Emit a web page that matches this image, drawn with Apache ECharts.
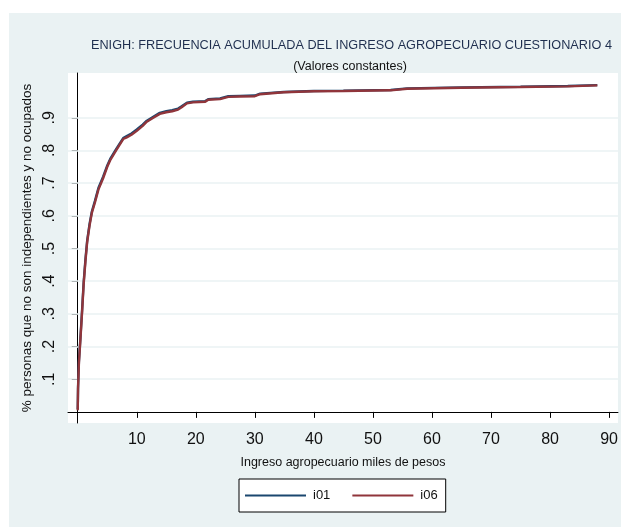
<!DOCTYPE html>
<html>
<head>
<meta charset="utf-8">
<script src="https://cdn.jsdelivr.net/npm/echarts@6/dist/echarts.min.js"></script>
<style>
  html, body { margin: 0; padding: 0; background: #ffffff; }
  #wrap { position: relative; width: 621px; height: 527px; }
  #bg { position: absolute; left: 9px; top: 13px; right: 0; bottom: 0; background: #eaf2f3; }
  #chart { position: absolute; left: 0; top: 0; width: 621px; height: 527px; }
</style>
</head>
<body>
<div id="wrap"><div id="bg"></div><div id="chart"></div></div>
<script>
// Cumulative frequency of agricultural income (thousands of pesos)
const incomeI06 = [0.0, 0.05, 0.2, 0.45, 0.75, 1.0, 1.3, 1.6, 2.0, 2.4, 2.9, 3.5, 4.3, 5.0, 5.5, 6.5, 7.7, 8.3, 9.1, 10.0, 11.0, 11.7, 12.8, 13.9, 15.0, 16.0, 17.0, 17.6, 18.5, 19.5, 21.6, 22.1, 24.1, 25.5, 27.5, 30.0, 30.9, 34.9, 40.0, 45.0, 53.0, 55.8, 65.0, 75.0, 83.0, 88.0];
const cumI06 = [0.005, 0.07, 0.15, 0.22, 0.31, 0.39, 0.46, 0.52, 0.57, 0.61, 0.64, 0.68, 0.715, 0.75, 0.77, 0.80, 0.835, 0.84, 0.848, 0.86, 0.875, 0.888, 0.90, 0.912, 0.917, 0.92, 0.925, 0.932, 0.944, 0.947, 0.949, 0.955, 0.957, 0.964, 0.965, 0.966, 0.972, 0.978, 0.981, 0.982, 0.984, 0.989, 0.992, 0.994, 0.996, 0.999];
const incomeI01 = [0.0, 0.05, 0.2, 0.45, 0.75, 1.0, 1.3, 1.6, 2.0, 2.4, 2.9, 3.5, 4.3, 5.0, 5.5, 6.5, 7.7, 8.3, 9.1, 10.0, 11.0, 11.7, 12.8, 13.9, 15.0, 16.0, 17.0, 17.6, 18.5, 19.5, 21.6, 22.1, 24.1, 25.5, 27.5, 30.0, 30.9, 34.9, 40.0, 45.0, 53.0, 55.8, 65.0, 75.0, 83.0, 88.0];
const cumI01 = [0.008, 0.075, 0.155, 0.226, 0.316, 0.396, 0.466, 0.525, 0.575, 0.614, 0.645, 0.685, 0.72, 0.754, 0.774, 0.804, 0.838, 0.844, 0.852, 0.864, 0.879, 0.891, 0.903, 0.915, 0.92, 0.923, 0.928, 0.935, 0.946, 0.949, 0.951, 0.957, 0.959, 0.966, 0.967, 0.968, 0.974, 0.979, 0.982, 0.983, 0.985, 0.99, 0.993, 0.995, 0.997, 1.0];

const xTicks = [10, 20, 30, 40, 50, 60, 70, 80, 90];
const yTicks = [0.1, 0.2, 0.3, 0.4, 0.5, 0.6, 0.7, 0.8, 0.9];
const yTickLabels = ['.1', '.2', '.3', '.4', '.5', '.6', '.7', '.8', '.9'];

const FONT = '"Liberation Sans", Arial, sans-serif';
const pairs = (xs, ys) => xs.map((x, i) => [x, ys[i]]);

const chart = echarts.init(document.getElementById('chart'), null, { renderer: 'canvas' });
chart.setOption({
  backgroundColor: 'transparent',
  animation: false,
  textStyle: { fontFamily: FONT },
  title: [
    {
      text: 'ENIGH: FRECUENCIA ACUMULADA DEL INGRESO AGROPECUARIO CUESTIONARIO 4',
      left: 86, top: 34,
      textStyle: { fontFamily: FONT, fontSize: 12.7, fontWeight: 'normal', color: '#1f2f4f' }
    },
    {
      text: '(Valores constantes)',
      left: 345, top: 55, textAlign: 'center',
      textStyle: { fontFamily: FONT, fontSize: 12.5, fontWeight: 'normal', color: '#111111' }
    }
  ],
  grid: {
    left: 68, top: 73, right: 3, bottom: 104,
    show: true, backgroundColor: '#ffffff', borderWidth: 0
  },
  legend: {
    left: 239, top: 479, width: 207, height: 33,
    padding: [10, 8, 10, 6],
    backgroundColor: '#ffffff', borderColor: '#000000', borderWidth: 1,
    itemWidth: 61, itemHeight: 12, itemGap: 22,
    icon: 'path://M0,5 L61,5 L61,7 L0,7 Z',
    textStyle: { fontFamily: FONT, fontSize: 13, color: '#111111', padding: [0, 0, 0, 2] },
    data: ['i01', 'i06']
  },
  xAxis: {
    type: 'value', min: -1.65, max: 91.5,
    name: 'Ingreso agropecuario miles de pesos',
    nameLocation: 'middle', nameGap: 33,
    nameTextStyle: { fontFamily: FONT, fontSize: 12.5, color: '#111111' },
    axisLine: { show: true, lineStyle: { color: '#000000', width: 1 } },
    axisTick: { show: true, length: 6, customValues: xTicks, lineStyle: { color: '#000000' } },
    axisLabel: { customValues: xTicks, margin: 9, fontFamily: FONT, fontSize: 16, color: '#111111' },
    splitLine: { show: false }
  },
  yAxis: {
    type: 'value', min: -0.034, max: 1.037,
    name: '% personas que no son independientes y no ocupados',
    nameLocation: 'middle', nameGap: 25, nameRotate: 90,
    nameTextStyle: { fontFamily: FONT, fontSize: 13.5, color: '#111111' },
    axisLine: { show: true, lineStyle: { color: '#000000', width: 1 } },
    axisTick: { show: true, length: 6, customValues: yTicks, lineStyle: { color: '#000000' } },
    axisLabel: {
      customValues: yTicks, rotate: 90, margin: 10,
      fontFamily: FONT, fontSize: 16, color: '#111111',
      formatter: v => yTickLabels[yTicks.findIndex(t => Math.abs(t - v) < 1e-6)] || ''
    },
    splitLine: { show: false }
  },
  series: [
    {
      name: 'i01', type: 'line', data: pairs(incomeI01, cumI01),
      showSymbol: false, symbol: 'none', z: 3,
      lineStyle: { color: '#1a476f', width: 2.4 }, itemStyle: { color: '#1a476f' },
      markLine: {
        silent: true, symbol: 'none', label: { show: false }, z: 1,
        lineStyle: { color: '#eaf2f3', width: 1.5, type: 'solid' },
        data: yTicks.map(v => ({ yAxis: v }))
      }
    },
    {
      name: 'i06', type: 'line', data: pairs(incomeI06, cumI06),
      showSymbol: false, symbol: 'none', z: 4,
      lineStyle: { color: '#90353b', width: 2.4 }, itemStyle: { color: '#90353b' }
    }
  ]
});
</script>
</body>
</html>
